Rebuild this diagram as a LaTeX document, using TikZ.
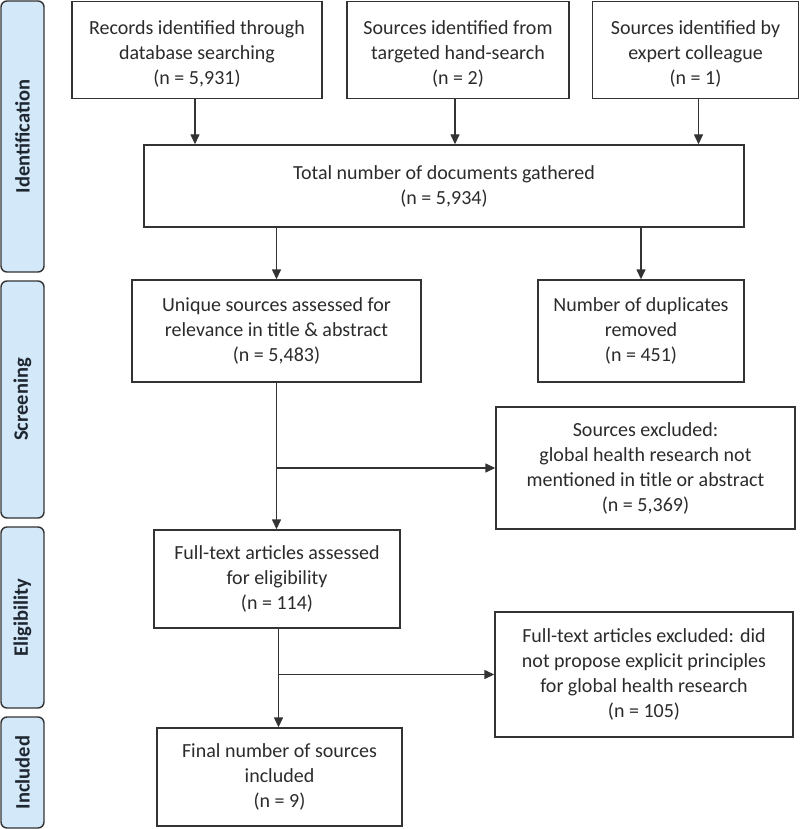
\documentclass[tikz,border=0pt]{standalone}
\usepackage{fontspec}
\setmainfont{Carlito}
\usetikzlibrary{arrows.meta,calc}
\definecolor{lineC}{HTML}{333333}
\definecolor{textC}{HTML}{2B2B2B}
\definecolor{sideFill}{HTML}{D3E8F8}
\definecolor{sideText}{HTML}{1E2630}
\tikzset{
  box/.style={draw=lineC, line width=1.4pt, rectangle, inner sep=0pt, align=center,
    text=textC, font=\fontsize{20}{25}\selectfont},
  boxtext/.style={inner sep=0pt, align=center, text=textC, font=\fontsize{20}{25}\selectfont},
  side/.style={draw=lineC, line width=1.4pt, fill=sideFill, rounded corners=6pt,
    rectangle, inner sep=0pt, minimum width=43pt},
  sidetext/.style={rotate=90, text=sideText, font=\bfseries\fontsize{20.5}{22}\selectfont},
  arr/.style={draw=lineC, line width=1.4pt, -{Triangle[length=10pt,width=9pt]}},
}
\begin{document}
\begin{tikzpicture}[x=1pt,y=-1pt]
\useasboundingbox (0,0) rectangle (800,829);
% side labels
\node[side, minimum height=271pt] (s1) at (22.5,136.5) {};
\node[sidetext] (t1) at (s1.center) {Identification};
\node[side, minimum height=237pt] (s2) at (22.5,399.5) {};
\node[sidetext] (t2) at (s2.center) {Screening};
\node[side, minimum height=181pt] (s3) at (22.5,617.5) {};
\node[sidetext] (t3) at (s3.center) {Eligibility};
\node[side, minimum height=111pt] (s4) at (22.5,772.5) {};
\node[sidetext] (t4) at (s4.center) {Included};
% top boxes (text sits slightly low in the reference)
\node[box, minimum width=250pt, minimum height=97pt] (rec) at (197,50) {};
\node[boxtext] (rect) at ($(rec.center)+(0,4)$)
  {Records identified through\\database searching\\(n = 5,931)};
\node[box, minimum width=222pt, minimum height=97pt] (hand) at (458,50) {};
\node[boxtext] (handt) at ($(hand.center)+(0,4)$)
  {Sources identified from\\targeted hand-search\\(n = 2)};
\node[box, minimum width=206pt, minimum height=97pt] (exp) at (695.5,50) {};
\node[boxtext] (expt) at ($(exp.center)+(0,4)$)
  {Sources identified by\\expert colleague\\(n = 1)};
% other boxes
\node[box, minimum width=600pt, minimum height=82pt] (total) at (444,186)
  {Total number of documents gathered\\(n = 5,934)};
\node[box, minimum width=289pt, minimum height=102pt] (uniq) at (276.5,331)
  {Unique sources assessed for\\relevance in title \& abstract\\(n = 5,483)};
\node[box, minimum width=206pt, minimum height=102pt] (dup) at (641,331)
  {Number of duplicates\\removed\\(n = 451)};
\node[box, minimum width=299pt, minimum height=122pt] (exc1) at (645.5,468)
  {Sources excluded:\\global health research not\\mentioned in title or abstract\\(n = 5,369)};
\node[box, minimum width=246pt, minimum height=98pt] (full) at (277,579)
  {Full-text articles assessed\\for eligibility\\(n = 114)};
\node[box, minimum width=298pt, minimum height=125pt] (exc2) at (644,674.5)
  {Full-text articles excluded: did\\not propose explicit principles\\for global health research\\(n = 105)};
\node[box, minimum width=245pt, minimum height=98pt] (final) at (279.5,777)
  {Final number of sources\\included\\(n = 9)};
% connector points
\coordinate (a1) at ($(rec.south)+(-2,0)$);
\coordinate (a2) at ($(hand.south)+(-3,0)$);
\coordinate (a3) at ($(exp.south)+(3,0)$);
\coordinate (b1) at ($(full.south)+(1.5,0)$);
% connectors
\draw[arr] (a1) -- (a1 |- total.north);
\draw[arr] (a2) -- (a2 |- total.north);
\draw[arr] (a3) -- (a3 |- total.north);
\draw[arr] (total.south -| uniq.north) -- (uniq.north);
\draw[arr] (total.south -| dup.north) -- (dup.north);
\draw[arr] (uniq.south) -- (uniq.south |- full.north);
\draw[arr] (uniq.south |- exc1.west) -- (exc1.west);
\draw[arr] (b1) -- (b1 |- final.north);
\draw[arr] (b1 |- exc2.west) -- (exc2.west);
\end{tikzpicture}
\end{document}
